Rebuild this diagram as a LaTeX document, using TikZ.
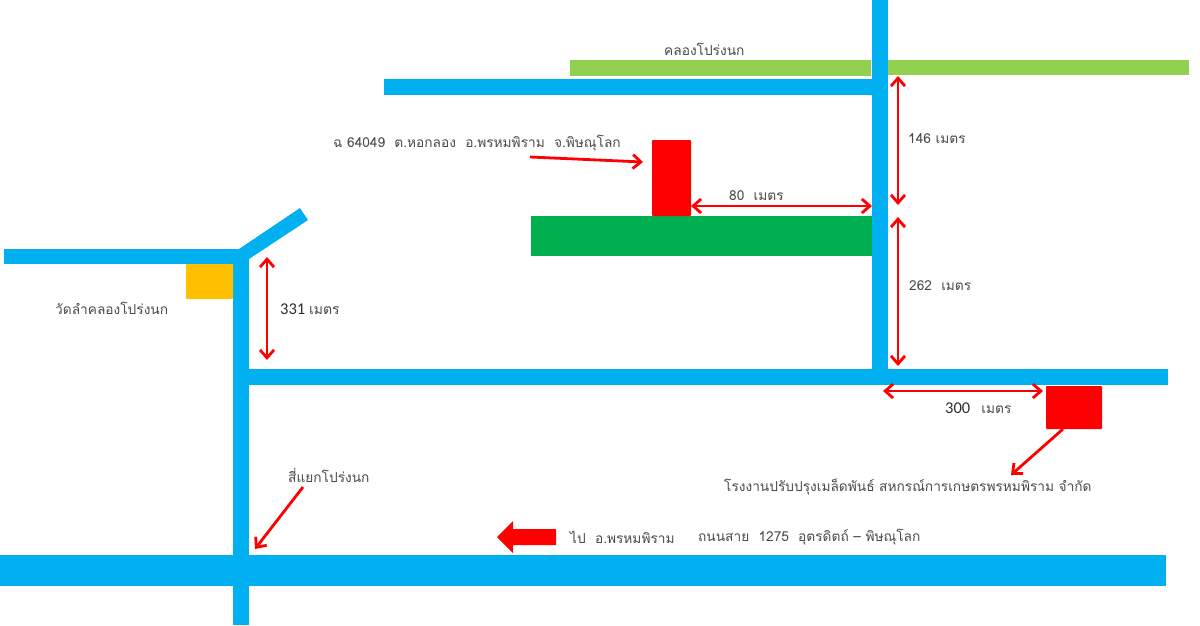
\documentclass[tikz,border=0pt]{standalone}
\usepackage{fontspec}
\newfontfamily\thaifont[Script=Thai]{Loma}
\newfontfamily\numfont{Carlito}
\usetikzlibrary{arrows.meta}
\definecolor{road}{HTML}{00B0F0}
\definecolor{canal}{HTML}{92D050}
\definecolor{land}{HTML}{00B050}
\definecolor{redmark}{HTML}{FF0000}
\definecolor{temple}{HTML}{FFC000}
\definecolor{ink}{HTML}{4A4A4A}
\definecolor{inkdark}{HTML}{2E2E2E}
\newcommand{\blockat}[7][]{%
  \pgfmathsetlengthmacro{\blockw}{(#5-#3)*1pt}%
  \pgfmathsetlengthmacro{\blockh}{(#6-#4)*1pt}%
  \node[block,#1,fill=#7,minimum width=\blockw,minimum height=\blockh] (#2) at ({(#3+#5)/2},{(#4+#6)/2}) {};}
\tikzset{
  block/.style={inner sep=0pt,outer sep=0pt,draw=none,rectangle},
  softblock/.style={rounded corners=0.8pt},
  txt/.style={font=\thaifont\fontsize{13.7}{15}\selectfont,text=ink,inner sep=0pt,anchor=west},
  numtxt/.style={font=\fontsize{16.5}{18}\selectfont,text=inkdark,inner sep=0pt,anchor=west},
  pointer/.style={draw=redmark,line width=2.8pt,-{Straight Barb[length=8pt,width=14pt,line width=2.8pt]}},
  spanarrow/.style={draw=redmark,line width=2.8pt,{Straight Barb[length=8pt,width=14pt,line width=2.8pt]}-{Straight Barb[length=8pt,width=14pt,line width=2.8pt]}}
}
\begin{document}
\begin{tikzpicture}[x=1pt,y=-1pt]
\useasboundingbox (0,0) rectangle (1200,625);
% roads and canals
\blockat{canalL}{570}{60}{871}{76}{canal}
\blockat{canalR}{888}{60}{1189}{75}{canal}
\blockat{roadTop}{384}{79}{880}{95}{road}
\blockat{roadV}{872}{0}{888}{370}{road}
\blockat{roadMid}{233}{369}{1168}{385}{road}
\blockat{roadLeft}{233}{255}{249}{625}{road}
\blockat{roadTL}{4}{249}{240}{264}{road}
\blockat{roadBot}{0}{555}{1166}{586}{road}
\fill[road] (239,249) -- (300,208) -- (308,220) -- (249,259) -- (240,264) -- cycle;
% plots
\blockat{landplot}{531}{216}{872}{256}{land}
\blockat[softblock]{plot}{652}{140}{691}{216}{redmark}
\blockat[softblock]{factory}{1046}{386}{1102}{429}{redmark}
\blockat[softblock]{wat}{186}{264}{233}{299}{temple}
% labels
\node[txt] (tCanal) at (664,49) {คลองโปร่งนก};
\node[txt] (tPlot) at (333,143) {ฉ 64049\ \ ต.หอกลอง\ \ อ.พรหมพิราม\ \ จ.พิษณุโลก};
\node[txt] (t80) at (729,196) {80\ \ เมตร};
\node[txt] (t146) at (908,139) {146 เมตร};
\node[txt] (t262) at (909,286) {262\ \ เมตร};
\node[txt] (tWat) at (55,308) {วัดลำคลองโปร่งนก};
\node[numtxt] (t331) at (280,309) {\numfont 331 {\thaifont\fontsize{14}{16}\selectfont\color{ink} เมตร}};
\node[numtxt] (t300) at (945,408) {\numfont 300\ \ \ {\thaifont\fontsize{13.7}{15}\selectfont\color{ink} เมตร}};
\node[txt] (tFactory) at (724,487) {โรงงานปรับปรุงเมล็ดพันธ์ สหกรณ์การเกษตรพรหมพิราม จำกัด};
\node[txt] (tJunction) at (288,475) {สี่แยกโปร่งนก};
\node[txt] (tGo) at (570,537) {ไป\ \ อ.พรหมพิราม};
\node[txt] (tRoad) at (698,537) {ถนนสาย\ \ 1275\ \ อุตรดิตถ์ – พิษณุโลก};
% free ends
\coordinate (a1) at (530,157); \coordinate (a2) at (643,162);
\coordinate (b1) at (691,206); \coordinate (b2) at (872,206);
\coordinate (c1) at (898,76); \coordinate (c2) at (898,205);
\coordinate (d1) at (898,217); \coordinate (d2) at (898,366);
\coordinate (e1) at (267,257); \coordinate (e2) at (267,360);
\coordinate (f1) at (883,391); \coordinate (f2) at (1043,391);
\coordinate (g1) at (1063,429); \coordinate (g2) at (1011,475);
\coordinate (h1) at (303,487); \coordinate (h2) at (255,549);
\draw[pointer] (a1) -- (a2);
\draw[spanarrow] (b1) -- (b2);
\draw[spanarrow] (c1) -- (c2);
\draw[spanarrow] (d1) -- (d2);
\draw[spanarrow] (e1) -- (e2);
\draw[spanarrow] (f1) -- (f2);
\draw[pointer] (g1) -- (g2);
\draw[pointer] (h1) -- (h2);
% big direction arrow
\fill[redmark] (497,537) -- (513,521) -- (513,529) -- (556,529) -- (556,545) -- (513,545) -- (513,553) -- cycle;
\end{tikzpicture}
\end{document}
